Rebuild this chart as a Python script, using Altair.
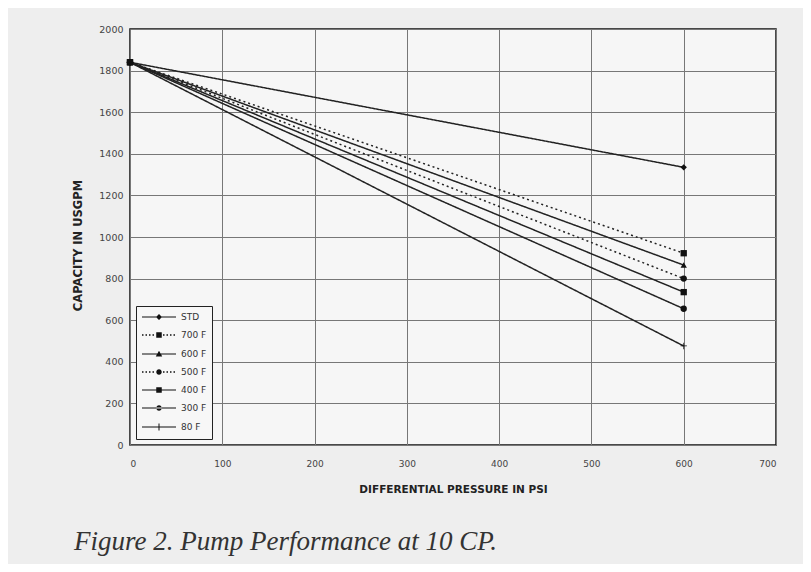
import altair as alt
import pandas as pd

series = ["STD", "700 F", "600 F", "500 F", "400 F", "300 F", "80 F"]
pressure = [0, 600]
start_capacity = [1840, 1840, 1840, 1840, 1840, 1840, 1840]
end_capacity = [1335, 922, 865, 800, 735, 655, 476]
dotted = [False, True, False, True, False, False, False]

PLUS = "M-0.12,-1h0.24v0.88h0.88v0.24h-0.88v0.88h-0.24v-0.88h-0.88v-0.24h0.88Z"
marker = ["diamond", "square", "triangle-up", "circle", "square", "circle", PLUS]

rows = []
for i, s in enumerate(series):
    for p, c in zip(pressure, [start_capacity[i], end_capacity[i]]):
        rows.append({"Series": s, "Pressure": p, "Capacity": c,
                     "Style": "dot" if dotted[i] else "solid"})
df = pd.DataFrame(rows)

# legend symbol paths: unit = 5px (symbol size 100); drawn from x=-1 to 5.8
L0, L1, MC = -1.0, 5.8, 2.4
def seg_line(dot):
    if not dot:
        return f"M{L0},-0.1h{L1 - L0}v0.2h{L0 - L1}Z"
    parts = []
    x = L0
    while x < L1:
        if abs(x + 0.15 - MC) > 0.9:
            parts.append(f"M{x:.2f},-0.15h0.3v0.3h-0.3Z")
        x += 0.7
    return "".join(parts)

def mk_path(m):
    c = MC
    if m == "diamond":
        return f"M{c},-0.6L{c+0.6},0L{c},0.6L{c-0.6},0Z"
    if m == "square":
        return f"M{c-0.55},-0.55h1.1v1.1h-1.1Z"
    if m == "triangle-up":
        return f"M{c},-0.65L{c+0.65},0.5L{c-0.65},0.5Z"
    if m == "circle":
        r = 0.55
        return f"M{c-r},0a{r},{r} 0 1,0 {2*r},0a{r},{r} 0 1,0 {-2*r},0Z"
    return f"M{c-0.1},-0.7h0.2v1.4h-0.2Z"

legend_paths = [seg_line(dotted[i]) + mk_path(marker[i]) for i in range(len(series))]

x_enc = alt.X("Pressure:Q",
              scale=alt.Scale(domain=[0, 700], nice=False),
              axis=alt.Axis(values=list(range(0, 701, 100)), format="d",
                            title="DIFFERENTIAL PRESSURE IN PSI",
                            titlePadding=16, labelPadding=14,
                            labelFontSize=9, titleFontSize=10.5))
y_enc = alt.Y("Capacity:Q",
              scale=alt.Scale(domain=[0, 2000], nice=False),
              axis=alt.Axis(values=list(range(0, 2001, 200)), format="d",
                            title="CAPACITY IN USGPM", titleY=216,
                            titlePadding=15, labelPadding=7,
                            labelFontSize=9.5, titleFontSize=11.5))

lines = alt.Chart(df).mark_line(color="#222222", strokeWidth=1.5).encode(
    x=x_enc, y=y_enc,
    detail="Series:N",
    strokeDash=alt.StrokeDash("Style:N",
                              scale=alt.Scale(domain=["solid", "dot"],
                                              range=[[1, 0], [2, 3]]),
                              legend=None),
)

points = alt.Chart(df).mark_point(filled=True, color="#111111", size=40,
                                  opacity=1).encode(
    x=x_enc, y=y_enc,
    shape=alt.Shape("Series:N",
                    scale=alt.Scale(domain=series, range=marker),
                    legend=None),
)

legend_layer = alt.Chart(df).transform_filter("false").mark_point(
    filled=True, color="#111111", size=100, opacity=1
).encode(
    x=x_enc, y=y_enc,
    shape=alt.Shape("Series:N",
                    scale=alt.Scale(domain=series, range=legend_paths),
                    sort=series,
                    legend=alt.Legend(
                        title=None, orient="bottom-left", offset=6,
                        padding=5, strokeColor="#222222", fillColor="#f7f7f7",
                        labelFontSize=9, labelColor="#333333",
                        labelFont="DejaVu Sans",
                        symbolSize=100, rowPadding=6, labelOffset=28,
                        symbolFillColor="#111111", symbolOpacity=1)),
)

chart = alt.layer(lines, points, legend_layer).resolve_scale(
    shape="independent"
).properties(
    width=646, height=416,
    background="#eeeeee",
    autosize=alt.AutoSizeParams(type="none"),
    padding={"left": 122, "top": 21, "right": 27, "bottom": 119},
    title=alt.TitleParams(
        "Figure 2. Pump Performance at 10 CP.",
        orient="bottom", anchor="start", frame="group", dx=-56, offset=34,
        font="Liberation Serif", fontStyle="italic", fontWeight="normal",
        fontSize=27, color="#333333"),
).configure_view(
    stroke="#111111", strokeWidth=1.5, fill="#f6f6f6"
).configure_axis(
    grid=True, gridColor="#777777", gridWidth=1, gridOpacity=1,
    domain=False, ticks=False,
    labelFont="DejaVu Sans", labelColor="#444444",
    titleFont="DejaVu Sans", titleFontWeight="bold",
    titleColor="#222222",
)

chart.save("out.html", embed_options={"renderer": "svg", "actions": False})
